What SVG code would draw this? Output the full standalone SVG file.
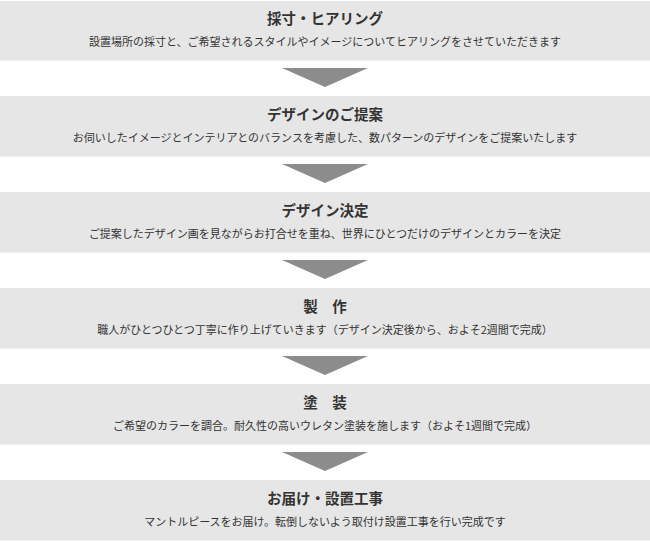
<svg xmlns="http://www.w3.org/2000/svg" width="650" height="541" viewBox="0 0 650 541">
<style>
.box{fill:#e6e6e6}
.arrow{fill:#8c8c8c}
.t{font-family:"Noto Sans CJK JP","Noto Sans",sans-serif;font-size:14.5px;font-weight:bold;fill:#333;text-anchor:middle}
.b{font-family:"Noto Sans CJK JP","Noto Sans",sans-serif;font-size:11px;fill:#333;text-anchor:middle}
</style>
<rect width="650" height="541" fill="#fff"/>
<g id="connectors">
<polygon class="arrow" points="282,68 368,68 325,87"/>
<polygon class="arrow" points="282,164 368,164 325,183"/>
<polygon class="arrow" points="282,260 368,260 325,279"/>
<polygon class="arrow" points="282,356 368,356 325,375"/>
<polygon class="arrow" points="282,452 368,452 325,471"/>
</g>
<g id="step1">
<rect class="box" x="0" y="1" width="650" height="59.5"/>
<text class="t" x="325" y="24">採寸・ヒアリング</text>
<text class="b" x="325" y="46">設置場所の採寸と、ご希望されるスタイルやイメージについてヒアリングをさせていただきます</text>
</g>
<g id="step2">
<rect class="box" x="0" y="96" width="650" height="60.5"/>
<text class="t" x="325" y="120">デザインのご提案</text>
<text class="b" x="325" y="142">お伺いしたイメージとインテリアとのバランスを考慮した、数パターンのデザインをご提案いたします</text>
</g>
<g id="step3">
<rect class="box" x="0" y="192" width="650" height="60.5"/>
<text class="t" x="325" y="216">デザイン決定</text>
<text class="b" x="325" y="238">ご提案したデザイン画を見ながらお打合せを重ね、世界にひとつだけのデザインとカラーを決定</text>
</g>
<g id="step4">
<rect class="box" x="0" y="288" width="650" height="60.5"/>
<text class="t" x="325" y="312">製　作</text>
<text class="b" x="325" y="334">職人がひとつひとつ丁寧に作り上げていきます（デザイン決定後から、およそ2週間で完成）</text>
</g>
<g id="step5">
<rect class="box" x="0" y="384" width="650" height="60.5"/>
<text class="t" x="325" y="408">塗　装</text>
<text class="b" x="325" y="430">ご希望のカラーを調合。耐久性の高いウレタン塗装を施します（およそ1週間で完成）</text>
</g>
<g id="step6">
<rect class="box" x="0" y="480" width="650" height="60.5"/>
<text class="t" x="325" y="504">お届け・設置工事</text>
<text class="b" x="325" y="526">マントルピースをお届け。転倒しないよう取付け設置工事を行い完成です</text>
</g>
</svg>
